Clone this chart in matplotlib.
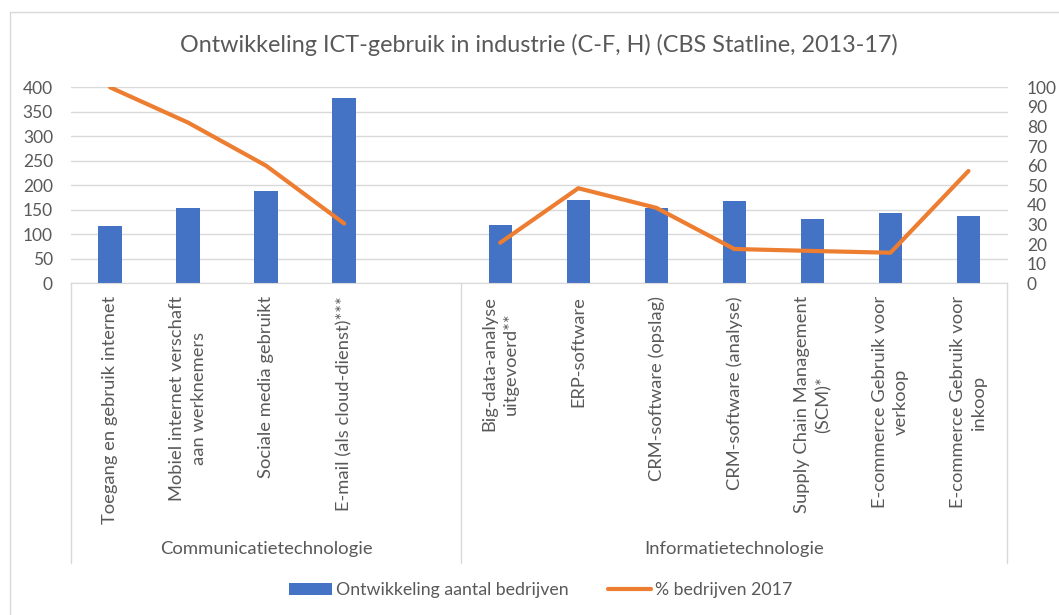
import matplotlib
matplotlib.use("Agg")
import matplotlib.pyplot as plt
import matplotlib.transforms as mtrans
from matplotlib.lines import Line2D
from matplotlib.patches import Rectangle
import numpy as np

plt.rcParams['font.family'] = ['Lato', 'DejaVu Sans']

title = "Ontwikkeling ICT-gebruik in industrie (C-F, H) (CBS Statline, 2013-17)"
groups = ["Communicatietechnologie", "Informatietechnologie"]
comm_labels = ["Toegang en gebruik internet",
               "Mobiel internet verschaft\naan werknemers",
               "Sociale media gebruikt",
               "E-mail (als cloud-dienst)***"]
info_labels = ["Big-data-analyse\nuitgevoerd**",
               "ERP-software",
               "CRM-software (opslag)",
               "CRM-software (analyse)",
               "Supply Chain Management\n(SCM)*",
               "E-commerce Gebruik voor\nverkoop",
               "E-commerce Gebruik voor\ninkoop"]
comm_bars = [117, 154, 188, 378]
info_bars = [120, 171, 154, 167, 131, 144, 137]
comm_pct = [100, 82, 60, 30.5]
info_pct = [20.7, 48.5, 38.5, 17.5, 16.5, 15.6, 57.3]
bar_name = "Ontwikkeling aantal bedrijven"
line_name = "% bedrijven 2017"

# layout: comm group has one empty slot at the end
labels = comm_labels + [""] + info_labels
bars = comm_bars + [np.nan] + info_bars
pct = comm_pct + [np.nan] + info_pct
x = np.arange(len(labels))
group_spans = [(0, len(comm_labels) + 1), (len(comm_labels) + 1, len(labels))]

W, H = 1059, 615
fig = plt.figure(figsize=(W / 100, H / 100), dpi=100)
fig.patch.set_facecolor("white")

# chart border
fig.add_artist(Rectangle((10 / W, -0.1), 1.2, 1 - 12 / H + 0.1, transform=fig.transFigure,
                         fill=False, edgecolor="#D9D9D9", lw=1))

L, R, T, B = 71, 1007.5, 87.3, 283.3
ax = fig.add_axes([L / W, 1 - B / H, (R - L) / W, (B - T) / H])
ax2 = ax.twinx()

txtc = "#595959"
gridc = "#D9D9D9"

ax.bar(x, bars, width=0.3, color="#4472C4", zorder=2, label=bar_name)
ax2.plot(x, pct, color="#ED7D31", lw=3, solid_capstyle="round", solid_joinstyle="round",
         label=line_name)

ax.set_xlim(-0.5, len(labels) - 0.5)
ax.set_ylim(0, 400)
ax.set_yticks(np.arange(0, 401, 50))
ax2.set_ylim(0, 100)
ax2.set_yticks(np.arange(0, 101, 10))
ax.grid(axis="y", color=gridc, lw=1, zorder=0)
ax.set_axisbelow(True)
ax.set_xticks([])
for a in (ax, ax2):
    for s in a.spines.values():
        s.set_visible(False)
    a.tick_params(axis="y", length=0, labelsize=12.5, labelcolor=txtc)
ax.tick_params(axis="y", pad=13)
ax2.tick_params(axis="y", pad=14)
for lab in ax2.get_yticklabels():
    lab.set_horizontalalignment("left")
ax.spines["bottom"].set_visible(True)
ax.spines["bottom"].set_color(gridc)

# category labels
tr = mtrans.blended_transform_factory(ax.transData, fig.transFigure)
for xi, lab in zip(x, labels):
    if lab:
        ax.text(xi, 1 - 296 / H, lab, transform=tr, rotation=90, ha="center", va="top",
                multialignment="center", fontsize=13.2, color=txtc, linespacing=1.4)

# group dividers and labels
for (s, e), g in zip(group_spans, groups):
    ax.text((s + e - 1) / 2, 1 - 549 / H, g, transform=tr, ha="center", va="center",
            fontsize=13.3, color=txtc)
for xb in [-0.5] + [e - 0.5 for s, e in group_spans]:
    fig.add_artist(Line2D([xb, xb], [1 - B / H, 1 - 563 / H], transform=tr,
                          color=gridc, lw=1))

fig.text(539 / W, 1 - 45 / H, title, ha="center", va="center", fontsize=16.8, color=txtc)

h1, l1 = ax.get_legend_handles_labels()
h2, l2 = ax2.get_legend_handles_labels()
fig.legend(h1 + h2, l1 + l2, loc="center", bbox_to_anchor=(541 / W, 1 - 590 / H),
           ncol=2, frameon=False, fontsize=12.8, labelcolor=txtc, handlelength=2.4,
           handletextpad=0.25, columnspacing=2.2)

fig.savefig("out.png", dpi=100)
